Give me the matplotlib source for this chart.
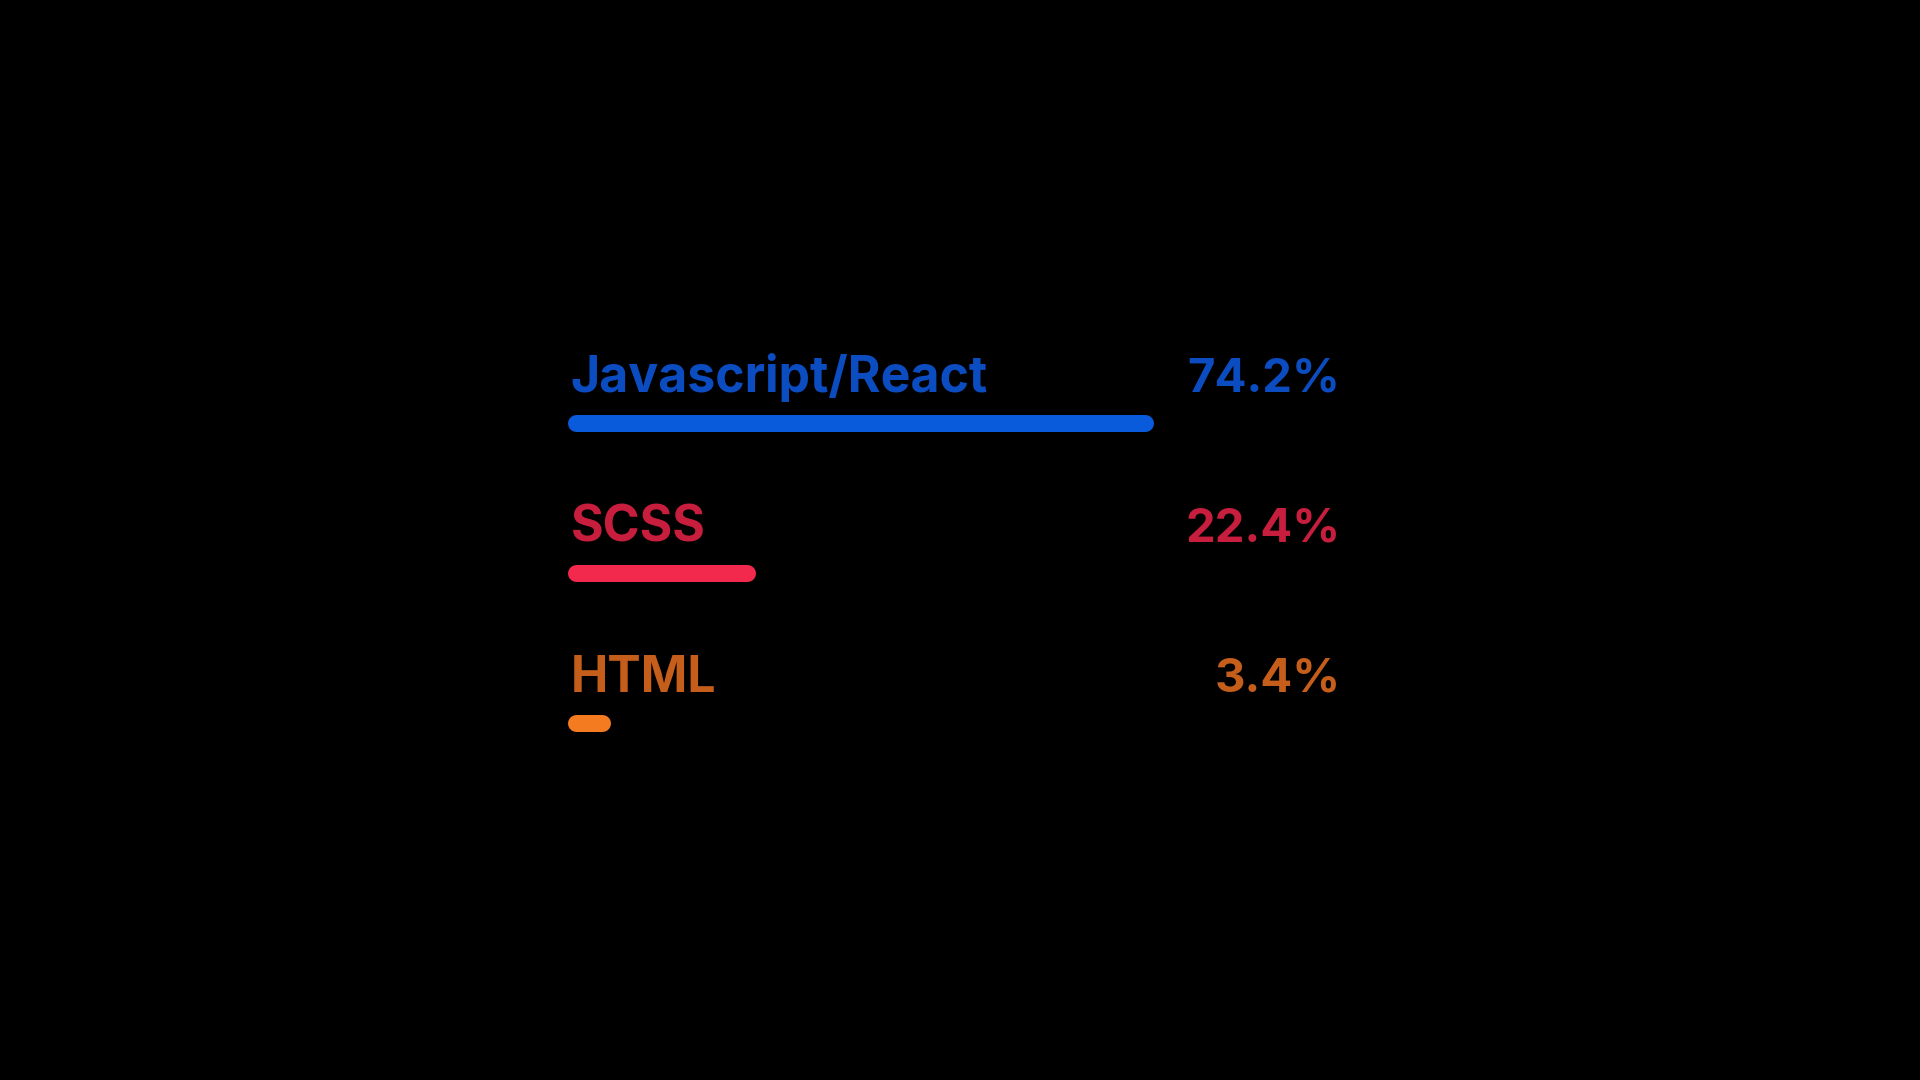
import matplotlib.pyplot as plt

# data
languages = ["Javascript/React", "SCSS", "HTML"]
shares = [74.2, 22.4, 3.4]
bar_colors = ["#0A5ADC", "#F2294C", "#F47B20"]
text_colors = ["#0B4CC0", "#C81E3E", "#C55E1A"]

W, H, DPI = 1920, 1080, 100
fig = plt.figure(figsize=(W / DPI, H / DPI), dpi=DPI, facecolor="black")

# axes: x in percent (0..100), rows 0..2, placed in pixel space
left_px, span_px = 575.5, 767
top_px, bot_px = 348, 798
ax = fig.add_axes([left_px / W, 1 - bot_px / H, span_px / W, (bot_px - top_px) / H])
ax.set_xlim(0, 100)
ax.set_ylim(2.5, -0.5)
ax.axis("off")
ax.set_facecolor("black")

bar_lw = 17 * 72 / DPI  # 17 px thick
name_font = dict(family=["Inter", "DejaVu Sans"], fontweight="bold", fontsize=36)
pct_font = dict(family=["Inter", "DejaVu Sans"], fontweight="bold", fontsize=34)

for i, (name, val) in enumerate(zip(languages, shares)):
    ax.plot([0, val], [i, i], color=bar_colors[i], lw=bar_lw,
            solid_capstyle="round", clip_on=False, zorder=2)
    ax.annotate(name, xy=(0, i), xytext=(-5, 31), textcoords="offset pixels",
                ha="left", va="baseline", color=text_colors[i], **name_font)
    ax.annotate(f"{val:.1f}%", xy=(100, i), xytext=(-2, 31), textcoords="offset pixels",
                ha="right", va="baseline", color=text_colors[i], **pct_font)

fig.savefig("out.png", dpi=DPI, facecolor="black")
